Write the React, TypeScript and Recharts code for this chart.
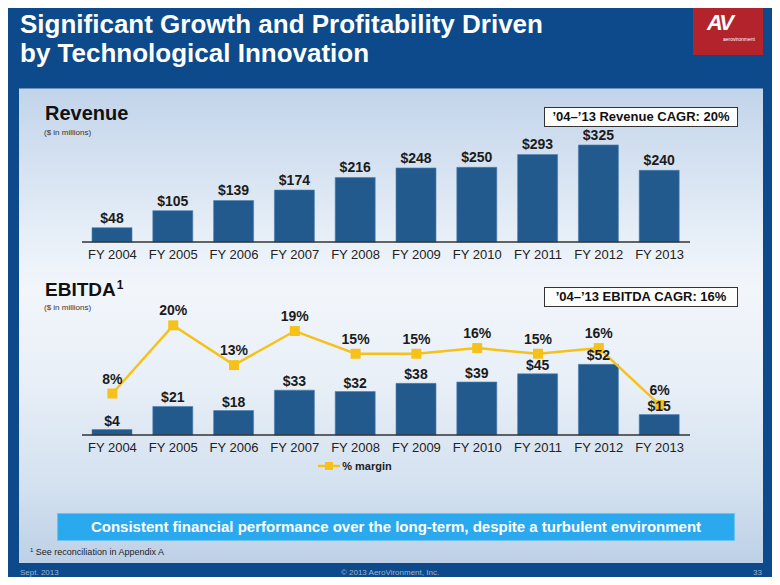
import React from 'react';
import {
	Bar,
	BarChart,
	ComposedChart,
	LabelList,
	Legend,
	Line,
	XAxis,
	YAxis,
} from 'recharts';

const years = ['FY 2004', 'FY 2005', 'FY 2006', 'FY 2007', 'FY 2008', 'FY 2009', 'FY 2010', 'FY 2011', 'FY 2012', 'FY 2013'];
const revenue = [48, 105, 139, 174, 216, 248, 250, 293, 325, 240];
const ebitda = [4, 21, 18, 33, 32, 38, 39, 45, 52, 15];
const marginPct = [8, 20, 13, 19, 15, 15, 16, 15, 16, 6];

const revenueData = years.map((name, i) => ({ name, revenue: revenue[i] }));
const ebitdaData = years.map((name, i) => ({ name, ebitda: ebitda[i], margin: marginPct[i] }));

const FONT = 'Arial, "Liberation Sans", Helvetica, sans-serif';
const BAR = '#235a8d';
const GOLD = '#f6c21a';
const BG = '#0c4a8b';
const FOOT = '#9fb4d2';

const tickStyle = { fontFamily: FONT, fontSize: 13, fill: '#222' };
const labelStyle = { fontFamily: FONT, fontSize: 14, fontWeight: 700, fill: '#1b1b1b' };

// square marker for the margin line
const SquareDot = (props: any) => {
	const { cx, cy } = props;
	if (cx == null || cy == null) return null;
	return <rect x={cx - 5} y={cy - 5} width={10} height={10} fill={GOLD} />;
};

const MarginLegend = () => (
	<div style={{ display: 'flex', justifyContent: 'center', alignItems: 'center', fontFamily: FONT, fontSize: 11, fontWeight: 700, color: '#222', marginLeft: -62 }}>
		<svg width={22} height={12}>
			<line x1={0} y1={6} x2={22} y2={6} stroke={GOLD} strokeWidth={2.5} />
			<rect x={7} y={2} width={8} height={8} fill={GOLD} />
		</svg>
		<span style={{ marginLeft: 2 }}>% margin</span>
	</div>
);

const CagrBox = ({ top, text }: { top: number; text: string }) => (
	<div
		style={{
			position: 'absolute',
			left: 544,
			top,
			width: 192,
			height: 18,
			background: '#fff',
			border: '1px solid #333',
			fontFamily: FONT,
			fontWeight: 700,
			fontSize: 13,
			lineHeight: '18px',
			textAlign: 'center',
			color: '#111',
			whiteSpace: 'nowrap',
		}}
	>
		{text}
	</div>
);

const text = (left: number, top: number, size: number, bold: boolean, color: string) => ({
	position: 'absolute' as const,
	left,
	top,
	fontFamily: FONT,
	fontSize: size,
	fontWeight: bold ? 700 : 400,
	color,
	whiteSpace: 'nowrap' as const,
});

export default function App() {
	return (
		<div style={{ position: 'relative', width: 780, height: 585, background: BG, overflow: 'hidden', margin: -8 }}>
			{/* title */}
			<div style={{ ...text(20, 10, 26, true, '#fff'), lineHeight: '29px' }}>
				Significant Growth and Profitability Driven
				<br />
				by Technological Innovation
			</div>
			{/* logo */}
			<div style={{ position: 'absolute', left: 693, top: 0, width: 70, height: 55, background: '#b3232b' }}>
				<div style={{ ...text(14, 12, 22, true, '#fff'), fontStyle: 'italic', fontWeight: 900, lineHeight: '22px', letterSpacing: -2 }}>AV</div>
				<div style={{ ...text(30, 36, 5, false, '#fff'), lineHeight: '6px' }}>aerovironment</div>
			</div>
			{/* panel */}
			<div
				style={{
					position: 'absolute',
					left: 19,
					top: 88,
					width: 744,
					height: 474,
					borderTop: '1px solid #6f8fb8',
					background: 'linear-gradient(180deg, #c2d4ea 0%, #e6eef7 30%, #f2f6fb 42%, #e8eff7 62%, #d2e0ef 85%, #bdd0e6 100%)',
				}}
			/>

			<div style={text(45, 102, 20, true, '#111')}>Revenue</div>
			<div style={text(44, 128, 8, false, '#333')}>($ in millions)</div>
			<CagrBox top={107} text="’04–’13 Revenue CAGR: 20%" />

			<div style={{ position: 'absolute', left: 82, top: 120 }}>
				<BarChart width={608} height={150} data={revenueData} margin={{ top: 10, right: 0, left: 0, bottom: 0 }}>
					<XAxis dataKey="name" height={28} tickLine={false} axisLine={{ stroke: '#333', strokeWidth: 1.5 }} tick={tickStyle} interval={0} />
					<YAxis hide domain={[0, 375]} />
					<Bar dataKey="revenue" fill={BAR} barSize={40} stroke="#4f7fae" strokeWidth={0.6} isAnimationActive={false}>
						<LabelList dataKey="revenue" position="top" offset={5} formatter={(v: any) => `$${v}`} style={labelStyle} />
					</Bar>
				</BarChart>
			</div>

			<div style={text(45, 279, 19, true, '#111')}>
				EBITDA<span style={{ fontSize: 12, position: 'relative', top: -7, marginLeft: 1 }}>1</span>
			</div>
			<div style={text(44, 303, 8, false, '#333')}>($ in millions)</div>
			<CagrBox top={287} text="’04–’13 EBITDA CAGR: 16%" />

			<div style={{ position: 'absolute', left: 82, top: 300 }}>
				<ComposedChart width={608} height={182} data={ebitdaData} margin={{ top: 10, right: 0, left: 0, bottom: 0 }}>
					<XAxis dataKey="name" height={25} tickLine={false} axisLine={{ stroke: '#333', strokeWidth: 1.5 }} tick={tickStyle} interval={0} />
					<YAxis yAxisId="left" hide domain={[0, 92]} />
					<YAxis yAxisId="right" orientation="right" hide domain={[0.7, 22.7]} />
					<Bar yAxisId="left" dataKey="ebitda" fill={BAR} barSize={40} stroke="#4f7fae" strokeWidth={0.6} isAnimationActive={false}>
						<LabelList dataKey="ebitda" position="top" offset={4} formatter={(v: any) => `$${v}`} style={labelStyle} />
					</Bar>
					<Line yAxisId="right" dataKey="margin" type="linear" stroke={GOLD} strokeWidth={2.5} dot={<SquareDot />} activeDot={false} isAnimationActive={false}>
						<LabelList dataKey="margin" position="top" offset={10} formatter={(v: any) => `${v}%`} style={labelStyle} />
					</Line>
					<Legend verticalAlign="bottom" height={22} content={() => <MarginLegend />} />
				</ComposedChart>
			</div>

			{/* banner */}
			<div
				style={{
					position: 'absolute',
					left: 57,
					top: 513,
					width: 676,
					height: 26,
					background: '#2aa9ef',
					border: '1px solid #6cc4f2',
					color: '#fff',
					fontFamily: FONT,
					fontWeight: 700,
					fontSize: 15,
					lineHeight: '26px',
					textAlign: 'center',
					whiteSpace: 'nowrap',
				}}
			>
				Consistent financial performance over the long-term, despite a turbulent environment
			</div>
			<div style={text(30, 547, 9, false, '#222')}>
				<span style={{ fontSize: 6, position: 'relative', top: -3 }}>1</span> See reconciliation in Appendix A
			</div>

			{/* footer */}
			<div style={text(20, 568, 8, false, FOOT)}>Sept. 2013</div>
			<div style={{ ...text(0, 568, 8, false, FOOT), width: 780, textAlign: 'center' }}>© 2013 AeroVironment, Inc.</div>
			<div style={text(753, 568, 8, false, FOOT)}>33</div>
		</div>
	);
}
